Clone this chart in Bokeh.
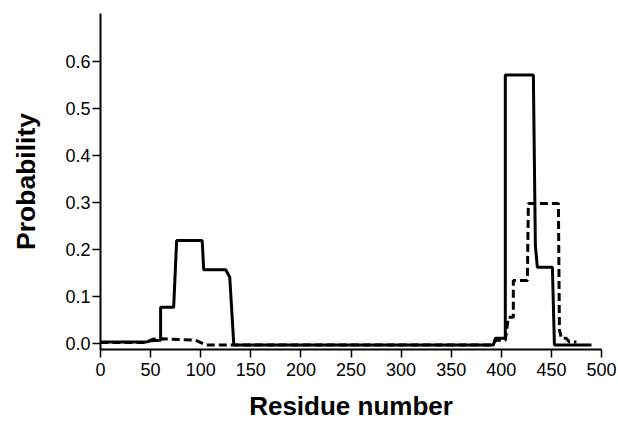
from bokeh.plotting import figure
from bokeh.models import FixedTicker, Range1d
from bokeh.embed import file_html
from bokeh.resources import INLINE

# ---- data ----
solid_x = [0, 45, 50, 60, 60, 73, 76, 101.5, 103, 125, 129, 133, 134, 392, 394, 402, 404, 404, 432, 434, 436, 451, 453, 490]
solid_y = [0.004, 0.004, 0.007, 0.008, 0.078, 0.078, 0.22, 0.22, 0.158, 0.158, 0.142, 0.0, -0.002, -0.002, 0.012, 0.012, 0.012, 0.572, 0.572, 0.209, 0.163, 0.163, -0.002, -0.002]

dash_x = [0, 45, 52, 60, 95, 100, 106, 130, 390, 395, 404, 407, 412, 412, 426, 427, 457, 458, 460, 465, 468, 475]
dash_y = [0.003, 0.003, 0.01, 0.011, 0.008, 0.003, -0.002, -0.002, -0.002, 0.008, 0.008, 0.057, 0.057, 0.135, 0.135, 0.299, 0.299, 0.03, 0.012, 0.012, 0.004, 0.004]

x_ticks = [0, 50, 100, 150, 200, 250, 300, 350, 400, 450, 500]
y_ticks = [0.0, 0.1, 0.2, 0.3, 0.4, 0.5, 0.6]
y_tick_labels = {0.0: "0.0", 0.1: "0.1", 0.2: "0.2", 0.3: "0.3", 0.4: "0.4", 0.5: "0.5", 0.6: "0.6"}

x_title = "Residue number"
y_title = "Probability"

FONT = "Liberation Sans"

p = figure(width=618, height=425, output_backend="svg", toolbar_location=None,
           x_range=Range1d(0, 500), y_range=Range1d(-0.0117, 0.703),
           min_border_left=100, min_border_right=17, min_border_top=13, min_border_bottom=76)
p.outline_line_color = None
p.xgrid.grid_line_color = None
p.ygrid.grid_line_color = None
p.background_fill_color = "white"
p.border_fill_color = "white"

p.line(solid_x, solid_y, line_color="black", line_width=3)
p.line(dash_x, dash_y, line_color="black", line_width=3, line_dash="8 4")

for ax in (p.xaxis[0], p.yaxis[0]):
    ax.axis_line_width = 2
    ax.axis_line_color = "black"
    ax.major_tick_line_width = 1.5
    ax.major_tick_line_color = "black"
    ax.major_tick_in = 0
    ax.major_tick_out = 8
    ax.minor_tick_line_color = None
    ax.major_label_text_font = FONT
    ax.major_label_text_font_size = "18px"
    ax.major_label_text_color = "black"
    ax.axis_label_text_font = FONT
    ax.axis_label_text_font_style = "bold"
    ax.axis_label_text_color = "black"

xa = p.xaxis[0]
xa.ticker = FixedTicker(ticks=x_ticks)
xa.major_label_standoff = 5
xa.axis_label = x_title
xa.axis_label_text_font_size = "26px"
xa.axis_label_standoff = 12

ya = p.yaxis[0]
ya.ticker = FixedTicker(ticks=y_ticks)
ya.major_label_overrides = y_tick_labels
ya.major_label_standoff = 2
ya.axis_label = y_title
ya.axis_label_text_font_size = "26.5px"
ya.axis_label_standoff = 21

open("out.html", "w").write(file_html(p, INLINE))
